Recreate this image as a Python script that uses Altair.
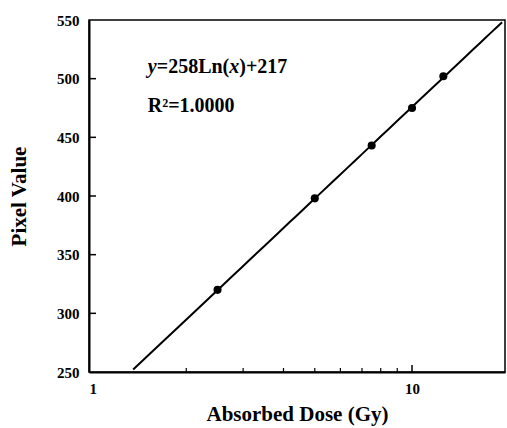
import altair as alt
import pandas as pd

# Data
dose = [2.5, 5, 7.5, 10, 12.5]
pixel = [320, 398, 443, 475, 502]
y_ticks = [250, 300, 350, 400, 450, 500, 550]
x_labels = [1, 10]
x_minor = [2, 3, 4, 5, 6, 7, 8, 9]
x_major = [10]
y_minor = [300, 350, 400, 450, 500]
fit_extent = [1.37, 19.0]

# annotation pieces (text, italic?, pixel offset from anchor)
eq_parts = ["y", "=258Ln(", "x", ")+217"]
eq_style = ["italic", "normal", "italic", "normal"]
eq_dx = [0, 9, 81.5, 91.5]
eq_x = 1.52
eq_y = 505
r2_text = ["R²=1.0000"]
r2_x = 1.52
r2_y = 472

FONT = "Liberation Serif"
X_DOMAIN = [1, 19.4]
Y_DOMAIN = [250, 550]

pts = pd.DataFrame({"dose": dose, "pixel": pixel})

xs = alt.Scale(type="log", domain=X_DOMAIN, nice=False)
ys = alt.Scale(domain=Y_DOMAIN, nice=False, zero=False)

base = alt.Chart(pts)

line = base.transform_regression(
    "dose", "pixel", method="log", extent=fit_extent
).mark_line(color="black", strokeWidth=2).encode(
    x=alt.X("dose:Q", scale=xs,
            axis=alt.Axis(values=x_labels, title="Absorbed Dose (Gy)",
                          labelExpr="datum.value", grid=False, ticks=False,
                          labelPadding=9, titlePadding=7)),
    y=alt.Y("pixel:Q", scale=ys,
            axis=alt.Axis(values=y_ticks, title="Pixel Value", grid=False,
                          ticks=False, labelPadding=10, titlePadding=27)),
)

points = base.mark_circle(color="black", size=65, opacity=1).encode(
    x=alt.X("dose:Q", scale=xs),
    y=alt.Y("pixel:Q", scale=ys),
)

xminor = alt.Chart(pd.DataFrame({"dose": x_minor})).mark_rule(
    color="black", strokeWidth=1.2
).encode(x=alt.X("dose:Q", scale=xs), y=alt.value(352), y2=alt.value(348))

xmajor = alt.Chart(pd.DataFrame({"dose": x_major})).mark_rule(
    color="black", strokeWidth=1.5
).encode(x=alt.X("dose:Q", scale=xs), y=alt.value(352), y2=alt.value(345))

yminor = alt.Chart(pd.DataFrame({"pixel": y_minor})).mark_rule(
    color="black", strokeWidth=1.5
).encode(y=alt.Y("pixel:Q", scale=ys), x=alt.value(0), x2=alt.value(7))

eq_layers = []
for t, st, dx in zip(eq_parts, eq_style, eq_dx):
    eq_layers.append(
        alt.Chart(pd.DataFrame({"dose": [eq_x], "pixel": [eq_y], "t": [t]})).mark_text(
            align="left", baseline="alphabetic", font=FONT, fontSize=20,
            fontWeight="bold", fontStyle=st, color="black", dx=dx
        ).encode(x=alt.X("dose:Q", scale=xs), y=alt.Y("pixel:Q", scale=ys), text="t:N")
    )

r2 = alt.Chart(pd.DataFrame({"dose": [r2_x], "pixel": [r2_y], "t": r2_text})).mark_text(
    align="left", baseline="alphabetic", font=FONT, fontSize=20,
    fontWeight="bold", color="black"
).encode(x=alt.X("dose:Q", scale=xs), y=alt.Y("pixel:Q", scale=ys), text="t:N")

chart = alt.layer(line, points, xminor, xmajor, yminor, *eq_layers, r2).properties(
    width=416, height=352,
    background="white",
    autosize=alt.AutoSizeParams(type="none"),
    padding={"left": 89, "top": 20, "right": 2, "bottom": 56},
).configure_view(
    stroke="black", strokeWidth=1.5
).configure_axis(
    domainColor="black", domainWidth=2,
    labelFont=FONT, labelFontSize=15, labelFontWeight="bold", labelColor="black",
    titleFont=FONT, titleFontSize=21, titleFontWeight="bold", titleColor="black",
)

chart.save("out.html", embed_options={"renderer": "svg", "actions": False})
